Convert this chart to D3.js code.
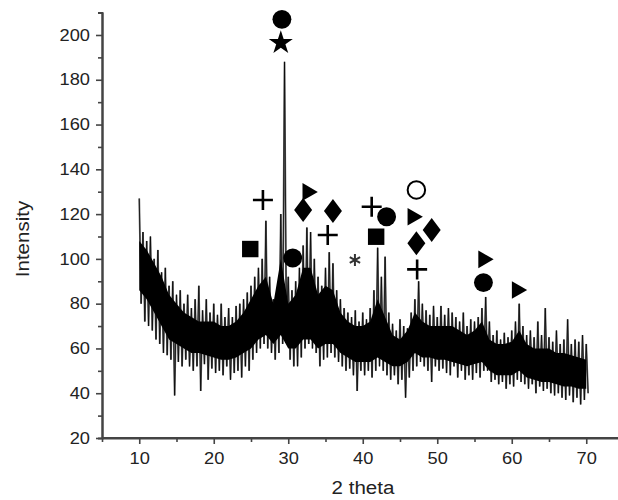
<!DOCTYPE html>
<html>
<head>
<meta charset="utf-8">
<script src="https://cdn.jsdelivr.net/npm/d3@7"></script>
<style>
body { margin: 0; background: #fff; }
text { font-family: "Liberation Sans", Arial, sans-serif; fill: #222; }
</style>
</head>
<body>
<script>
// noise envelope, one pair every 0.5 deg from 10 to 70
var upper = [
	127, 112, 108, 110, 100, 104, 94, 96, 88, 90,
	84, 86, 80, 84, 78, 82, 88, 77, 82, 76,
	80, 75, 80, 74, 78, 74, 79, 80, 82, 85,
	88, 92, 96, 100, 117, 92, 82, 86, 120, 188,
	92, 86, 90, 96, 106, 114, 112, 100, 92, 88,
	96, 103, 98, 86, 82, 78, 76, 74, 77, 72,
	76, 73, 78, 86, 105, 92, 101, 76, 71, 68,
	73, 70, 69, 76, 82, 90, 80, 77, 75, 79,
	74, 79, 75, 78, 76, 74, 72, 76, 70, 73,
	72, 74, 78, 83, 72, 66, 68, 64, 67, 65,
	68, 72, 80, 70, 66, 68, 65, 72, 66, 78,
	65, 63, 68, 62, 64, 73, 62, 64, 63, 66,
	62
];
var lower = [
	80, 72, 70, 68, 64, 62, 58, 57, 55, 39,
	54, 52, 55, 52, 50, 52, 41, 53, 46, 51,
	49, 50, 48, 52, 46, 49, 50, 47, 52, 50,
	55, 58, 60, 62, 60, 58, 55, 58, 62, 70,
	55, 52, 52, 56, 60, 62, 60, 58, 52, 55,
	56, 58, 56, 54, 52, 50, 51, 48, 41, 50,
	48, 50, 47, 50, 52, 50, 48, 46, 48, 44,
	46, 38, 47, 50, 52, 54, 52, 50, 45, 52,
	50, 51, 49, 48, 52, 47, 50, 46, 48, 46,
	49, 47, 50, 50, 45, 46, 44, 45, 42, 44,
	43, 46, 45, 44, 42, 44, 40, 43, 41, 42,
	40, 39, 40, 38, 37, 39, 36, 38, 35, 37,
	40
];
var angles = upper.map(function (d, i) { return 10 + i * 0.5; });

// dense dark core of the trace, one value per degree from 10 to 70
var coreHi = [
	108, 104, 98, 92, 84, 80, 76, 74, 72, 72,
	72, 70, 70, 72, 76, 82, 88, 92, 80, 100,
	80, 84, 96, 96, 84, 88, 86, 76, 72, 70,
	70, 72, 82, 74, 66, 64, 68, 76, 72, 70,
	70, 70, 70, 68, 66, 68, 72, 64, 62, 62,
	63, 68, 62, 60, 60, 60, 58, 58, 57, 56,
	55
];
var coreLo = [
	86, 82, 76, 70, 64, 62, 60, 58, 58, 57,
	56, 55, 55, 56, 58, 60, 64, 66, 62, 66,
	60, 60, 64, 64, 60, 62, 62, 58, 56, 54,
	54, 54, 56, 54, 52, 52, 54, 58, 56, 56,
	55, 55, 54, 53, 52, 53, 54, 50, 48, 48,
	48, 50, 47, 46, 45, 45, 44, 43, 43, 42,
	42
];
var coreAngles = coreHi.map(function (d, i) { return 10 + i; });

// phase markers
var markAngle = [29.15, 29.0, 26.6, 24.9, 32.6, 32.0, 36.0, 35.3, 30.6, 38.95,
	41.2, 43.2, 41.8, 47.2, 46.7, 49.25, 47.2, 47.3, 56.2, 56.2, 60.7];
var markInt = [207, 196.5, 126.3, 104.4, 129.9, 121.8, 121.4, 110.7, 100.4, 99.5,
	123.3, 118.8, 109.9, 130.8, 118.8, 112.9, 107, 95.3, 99.8, 89.4, 86.1];
var markKind = ["circle", "star", "plus", "square", "triangle", "diamond", "diamond", "plus", "circle", "asterisk",
	"plus", "circle", "square", "open", "triangle", "diamond", "diamond", "plus", "triangle", "circle", "triangle"];

var xTicks = [10, 20, 30, 40, 50, 60, 70];
var xMinor = [5, 15, 25, 35, 45, 55, 65];
var yTicks = [20, 40, 60, 80, 100, 120, 140, 160, 180, 200];
var yMinor = [30, 50, 70, 90, 110, 130, 150, 170, 190, 210];

var W = 618, H = 500;
var xScale = d3.scaleLinear().domain([5, 75]).range([102, 623.5]);
var yScale = d3.scaleLinear().domain([20, 210]).range([438, 12.6]);

var svg = d3.select("body").append("svg")
	.attr("width", W)
	.attr("height", H);

// zigzag between upper and lower envelope (grey fringe)
var pts = [];
angles.forEach(function (a, i) {
	pts.push([a, upper[i]]);
	pts.push([a + 0.25, lower[i]]);
});
var line = d3.line()
	.x(function (d) { return xScale(d[0]); })
	.y(function (d) { return yScale(d[1]); });

svg.append("path")
	.datum(pts)
	.attr("d", line)
	.attr("fill", "none")
	.attr("stroke", "#6a6a6a")
	.attr("stroke-width", 1.8);

// solid core of the noisy band
var area = d3.area()
	.x(function (d, i) { return xScale(coreAngles[i]); })
	.y0(function (d, i) { return yScale(coreLo[i]); })
	.y1(function (d) { return yScale(d); });
svg.append("path")
	.datum(coreHi)
	.attr("d", area)
	.attr("fill", "#000");

// thin dark spikes through the core
svg.append("path")
	.datum(pts)
	.attr("d", line)
	.attr("fill", "none")
	.attr("stroke", "#000")
	.attr("stroke-width", 0.9)
	.attr("stroke-opacity", 0.8);

// axes
var gx = svg.append("g").attr("transform", "translate(0,438)");
gx.call(d3.axisBottom(xScale).tickValues(xMinor).tickSize(4).tickFormat(""));
gx.append("g").call(d3.axisBottom(xScale).tickValues(xTicks).tickSize(6).tickPadding(9).tickSizeOuter(0));
var gy = svg.append("g").attr("transform", "translate(102,0)");
gy.call(d3.axisLeft(yScale).tickValues(yMinor).tickSize(4).tickFormat(""));
gy.append("g").call(d3.axisLeft(yScale).tickValues(yTicks).tickSize(6).tickPadding(6).tickSizeOuter(0));

svg.selectAll(".domain").attr("stroke", "#444").attr("stroke-width", 2);
gx.select(".domain").attr("d", "M102,0H618");
svg.selectAll(".tick line").attr("stroke", "#444").attr("stroke-width", 1.6);
svg.selectAll(".tick text").attr("font-size", "16px").attr("fill", "#222");

// axis titles
svg.append("text")
	.attr("class", "title")
	.attr("x", 363)
	.attr("y", 494)
	.attr("text-anchor", "middle")
	.attr("font-size", "18px")
	.text("2 theta");
svg.append("text")
	.attr("class", "title")
	.attr("transform", "translate(29,239) rotate(-90)")
	.attr("text-anchor", "middle")
	.attr("font-size", "18px")
	.text("Intensity");

// widen the glyphs a bit like the source image
svg.selectAll("text").each(function () {
	var len = this.getComputedTextLength();
	if (len > 0) {
		d3.select(this).attr("textLength", len * 1.14).attr("lengthAdjust", "spacingAndGlyphs");
	}
});

// markers
function diamondPath(w, h) {
	return "M0," + (-h / 2) + "L" + (w / 2) + ",0L0," + (h / 2) + "L" + (-w / 2) + ",0Z";
}
var sym = d3.symbol();
markKind.forEach(function (k, i) {
	var g = svg.append("g")
		.attr("transform", "translate(" + xScale(markAngle[i]) + "," + yScale(markInt[i]) + ")");
	if (k === "circle") {
		g.append("path").attr("d", sym.type(d3.symbolCircle).size(280)()).attr("fill", "#000");
	} else if (k === "open") {
		g.append("path").attr("d", sym.type(d3.symbolCircle).size(240)())
			.attr("fill", "#fff").attr("stroke", "#000").attr("stroke-width", 2);
	} else if (k === "star") {
		g.append("path").attr("d", sym.type(d3.symbolStar).size(180)()).attr("fill", "#000");
	} else if (k === "square") {
		g.append("path").attr("d", sym.type(d3.symbolSquare).size(270)()).attr("fill", "#000");
	} else if (k === "triangle") {
		g.append("path").attr("d", sym.type(d3.symbolTriangle).size(135)())
			.attr("transform", "rotate(90)").attr("fill", "#000");
	} else if (k === "diamond") {
		g.append("path").attr("d", diamondPath(18, 24)).attr("fill", "#000");
	} else if (k === "plus") {
		g.append("path").attr("d", "M-10,0H10M0,-10V10")
			.attr("stroke", "#000").attr("stroke-width", 2.6).attr("fill", "none");
	} else if (k === "asterisk") {
		g.append("path").attr("d", sym.type(d3.symbolAsterisk).size(100)())
			.attr("stroke", "#333").attr("stroke-width", 2).attr("fill", "none");
	}
});
</script>
</body>
</html>
